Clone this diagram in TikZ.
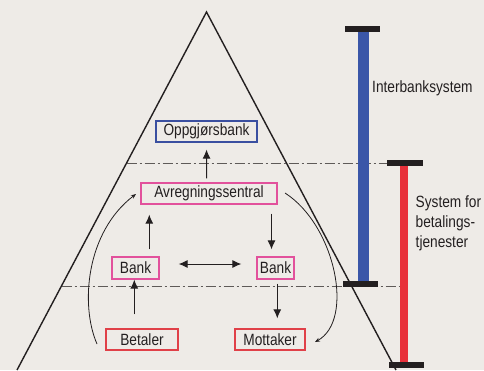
\documentclass[tikz,border=0pt]{standalone}
\usepackage{fontspec}
\setmainfont[FakeStretch=0.84]{Liberation Sans}
\usetikzlibrary{arrows.meta}
\definecolor{bg}{HTML}{EEEBE7}
\definecolor{ink}{HTML}{231F20}
\definecolor{boxblue}{HTML}{3A4FA0}
\definecolor{barblue}{HTML}{3A56A8}
\definecolor{barred}{HTML}{E8303A}
\definecolor{boxpink}{HTML}{E2519C}
\definecolor{boxred}{HTML}{E04048}
\definecolor{dashgray}{HTML}{5E5A58}
\tikzset{
  lbl/.style={font=\fontsize{16.3}{19}\selectfont, text=ink},
  boxnode/.style={lbl, draw, line width=1.2pt, inner sep=0pt, fill=bg},
  arr/.style={draw=ink, line width=1pt, -{Latex[length=9pt,width=8pt]}},
  darr/.style={draw=ink, line width=1pt, {Latex[length=9pt,width=8pt]}-{Latex[length=9pt,width=8pt]}},
  carr/.style={draw=ink, line width=0.8pt, -{Stealth[length=5pt,width=4pt]}},
  dline/.style={draw=dashgray, line width=1pt, dash pattern=on 10pt off 3pt on 2pt off 3pt},
  barcap/.style={fill=ink, draw=none},
}
\begin{document}
\begin{tikzpicture}[x=1pt,y=-1pt]
\fill[bg] (0,0) rectangle (484,370);
\useasboundingbox (0,0) rectangle (484,370);
% triangle
\coordinate (apex) at (206.5,12);
\coordinate (bl) at (17,370);
\coordinate (br) at (396,370);
\draw[ink, line width=1.4pt] (bl) -- (apex) -- (br);
% dash-dot lines
\coordinate (d1a) at (126.5,163);
\coordinate (d1b) at (388,163);
\coordinate (d2a) at (61.5,286);
\coordinate (d2b) at (403,286);
\draw[dline] (d1a) -- (d1b);
\draw[dline] (d2a) -- (d2b);
% bars
\fill[barblue] (358,29) rectangle (369,284);
\fill[barcap] (345,26) rectangle (380,32);
\fill[barcap] (343,281) rectangle (378,287);
\fill[barred] (400,163) rectangle (408,366);
\fill[barcap] (387,160) rectangle (423,166);
\fill[barcap] (389,362) rectangle (424,368);
% side labels
\node[lbl, anchor=west, inner sep=0pt] (ib) at (372,88) {Interbanksystem};
\node[lbl, anchor=north west, inner sep=0pt, align=left, font=\fontsize{16.3}{20}\selectfont] (sb) at (415.5,195.5) {System for\\betalings-\\tjenester};
% boxes
\node[boxnode, draw=boxblue, minimum width=101pt, minimum height=21pt] (opp) at (206.5,131.5) {Oppgjørsbank};
\node[boxnode, draw=boxpink, minimum width=136pt, minimum height=21pt] (avr) at (209,193.5) {Avregningssentral};
\node[boxnode, draw=boxpink, minimum width=47pt, minimum height=22pt] (bank1) at (135.5,268) {Bank};
\node[boxnode, draw=boxpink, minimum width=37pt, minimum height=22pt] (bank2) at (275.5,268) {Bank};
\node[boxnode, draw=boxred, minimum width=72pt, minimum height=21pt] (bet) at (142,339.5) {Betaler};
\node[boxnode, draw=boxred, minimum width=70pt, minimum height=21pt] (mot) at (270,339.5) {Mottaker};
% arrows
\draw[arr] ([xshift=-2.3pt,yshift=4pt]avr.north) -- ([yshift=-7pt]opp.south);
\draw[arr] ([xshift=13.8pt,yshift=7pt]bank1.north) -- ([xshift=-59.7pt,yshift=-10pt]avr.south);
\draw[arr] ([xshift=62.5pt,yshift=-9pt]avr.south) -- ([xshift=-4pt,yshift=7pt]bank2.north);
\draw[darr] ([xshift=19pt,yshift=4pt]bank1.east) -- ([xshift=-15pt,yshift=4pt]bank2.west);
\draw[arr] ([xshift=-7.7pt,yshift=14pt]bet.north) -- ([xshift=-1.2pt]bank1.south);
\draw[arr] ([xshift=1.8pt,yshift=-4pt]bank2.south) -- ([xshift=7.3pt,yshift=10pt]mot.north);
% curved arrows
\coordinate (c1s) at (97,344);
\coordinate (c1e) at (136,194);
\draw[carr] (c1s) .. controls (80,305) and (86,232) .. (c1e);
\coordinate (c2s) at (285,193);
\coordinate (c2e) at (315,342);
\draw[carr] (c2s) .. controls (335,225) and (355,320) .. (c2e);
\end{tikzpicture}
\end{document}
